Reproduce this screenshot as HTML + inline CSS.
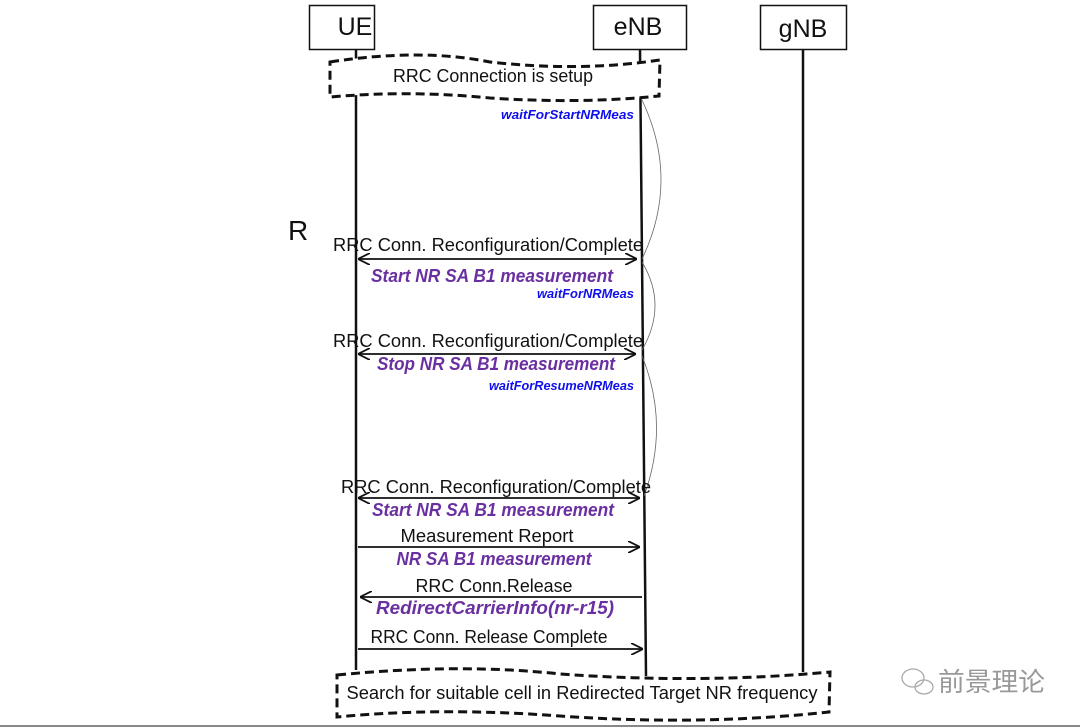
<!DOCTYPE html>
<html><head><meta charset="utf-8"><style>
html,body{margin:0;padding:0;background:#fff;}
svg{display:block;}
text{font-family:"Liberation Sans","Noto Sans CJK SC",sans-serif;}
.b{font-size:18px;fill:#111;text-anchor:middle;}
.p{font-size:18px;fill:#6a2fa0;font-style:italic;font-weight:bold;text-anchor:middle;}
.w{font-size:13px;fill:#1010ee;font-style:italic;font-weight:bold;}
</style></head><body>
<svg width="1080" height="728" viewBox="0 0 1080 728" xmlns="http://www.w3.org/2000/svg">
<defs>
<marker id="a" viewBox="0 0 12 12" refX="12" refY="6" markerWidth="12" markerHeight="12" markerUnits="userSpaceOnUse" orient="auto-start-reverse">
<path d="M0,0 L12,6 L0,12" fill="none" stroke="#111" stroke-width="1.8"/></marker>
</defs>
<rect x="309.5" y="5.5" width="65" height="44" fill="#fff" stroke="#111" stroke-width="1.5"/>
<text x="355" y="35" class="b" style="font-size:25px">UE</text>
<rect x="593.5" y="5.5" width="93" height="44" fill="#fff" stroke="#111" stroke-width="1.5"/>
<text x="638" y="35" class="b" style="font-size:25px">eNB</text>
<rect x="760.5" y="5.5" width="86" height="44" fill="#fff" stroke="#111" stroke-width="1.5"/>
<text x="803" y="37" class="b" style="font-size:25px">gNB</text>
<line x1="356" y1="50" x2="356" y2="670" stroke="#111" stroke-width="2.5"/>
<line x1="640" y1="50" x2="646" y2="676" stroke="#111" stroke-width="2.5"/>
<line x1="803" y1="50" x2="803" y2="672" stroke="#111" stroke-width="2.5"/>
<path d="M330,62 Q420,48 490,62 Q580,72 660,60 L659,96 Q580,104 490,98 Q410,90 330,97 Z" fill="#fff" stroke="#111" stroke-width="3" stroke-dasharray="9,5"/>
<text x="493" y="82" class="b" textLength="200" lengthAdjust="spacingAndGlyphs">RRC Connection is setup</text>
<path d="M337,675 Q460,663 560,674 Q700,684 830,672 L829,712 Q700,726 560,716 Q440,707 337,717 Z" fill="#fff" stroke="#111" stroke-width="3" stroke-dasharray="9,5"/>
<text x="582" y="699" class="b" textLength="471" lengthAdjust="spacingAndGlyphs">Search for suitable cell in Redirected Target NR frequency</text>
<path d="M642,100 Q680,180 642,259" fill="none" stroke="#666" stroke-width="0.8"/>
<path d="M642,262 Q668,305 642,350" fill="none" stroke="#666" stroke-width="0.8"/>
<path d="M642,356 Q670,425 644,496" fill="none" stroke="#666" stroke-width="0.8"/>
<text x="288" y="240" style="font-size:28px;fill:#111">R</text>
<text x="501" y="119" class="w" textLength="133" lengthAdjust="spacingAndGlyphs">waitForStartNRMeas</text>
<text x="537" y="298" class="w" textLength="97" lengthAdjust="spacingAndGlyphs">waitForNRMeas</text>
<text x="489" y="390" class="w" textLength="145" lengthAdjust="spacingAndGlyphs">waitForResumeNRMeas</text>

<text x="488" y="251" class="b" textLength="310" lengthAdjust="spacingAndGlyphs">RRC Conn. Reconfiguration/Complete</text>
<line x1="358" y1="259" x2="637" y2="259" stroke="#111" stroke-width="1.8" marker-start="url(#a)" marker-end="url(#a)"/>
<text x="492" y="282" class="p" textLength="242" lengthAdjust="spacingAndGlyphs">Start NR SA B1 measurement</text>

<text x="488" y="347" class="b" textLength="310" lengthAdjust="spacingAndGlyphs">RRC Conn. Reconfiguration/Complete</text>
<line x1="358" y1="354" x2="636" y2="354" stroke="#111" stroke-width="1.8" marker-start="url(#a)" marker-end="url(#a)"/>
<text x="496" y="370" class="p" textLength="238" lengthAdjust="spacingAndGlyphs">Stop NR SA B1 measurement</text>

<text x="496" y="493" class="b" textLength="310" lengthAdjust="spacingAndGlyphs">RRC Conn. Reconfiguration/Complete</text>
<line x1="358" y1="498" x2="640" y2="498" stroke="#111" stroke-width="1.8" marker-start="url(#a)" marker-end="url(#a)"/>
<text x="493" y="516" class="p" textLength="242" lengthAdjust="spacingAndGlyphs">Start NR SA B1 measurement</text>

<text x="487" y="542" class="b" textLength="173" lengthAdjust="spacingAndGlyphs">Measurement Report</text>
<line x1="358" y1="547" x2="640" y2="547" stroke="#111" stroke-width="1.8" marker-end="url(#a)"/>
<text x="494" y="565" class="p" textLength="195" lengthAdjust="spacingAndGlyphs">NR SA B1 measurement</text>

<text x="494" y="592" class="b" textLength="157" lengthAdjust="spacingAndGlyphs">RRC Conn.Release</text>
<line x1="642" y1="597" x2="360" y2="597" stroke="#111" stroke-width="1.8" marker-end="url(#a)"/>
<text x="495" y="614" class="p" textLength="238" lengthAdjust="spacingAndGlyphs">RedirectCarrierInfo(nr-r15)</text>

<text x="489" y="643" class="b" textLength="237" lengthAdjust="spacingAndGlyphs">RRC Conn. Release Complete</text>
<line x1="358" y1="649" x2="643" y2="649" stroke="#111" stroke-width="1.8" marker-end="url(#a)"/>
<g fill="none" stroke="#aaa" stroke-width="1.3">
<ellipse cx="913" cy="678" rx="11" ry="9"/>
<ellipse cx="924" cy="687" rx="9" ry="7"/>
</g>
<text x="938" y="691" style="font-size:26px;fill:#999" textLength="107" lengthAdjust="spacingAndGlyphs">前景理论</text>
<line x1="0" y1="726" x2="1080" y2="726" stroke="#888" stroke-width="2"/>
</svg>
</body></html>
